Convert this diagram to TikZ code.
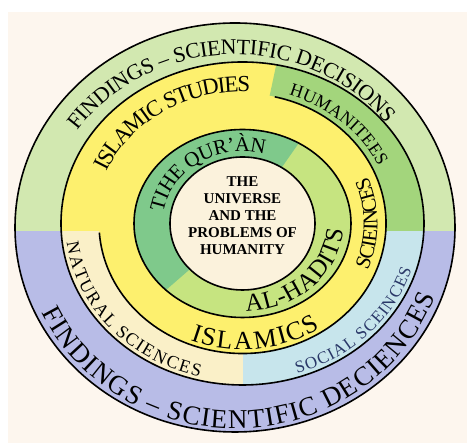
\documentclass[tikz,border=0pt]{standalone}
\usepackage{fontspec}
\setmainfont{Liberation Serif}
\usepackage{xcolor}
\usetikzlibrary{decorations.text}

\definecolor{paper}{HTML}{FDF6EE}
\definecolor{findtop}{HTML}{D2E8B0}
\definecolor{findbot}{HTML}{B8BCE7}
\definecolor{islamyel}{HTML}{FDF06E}
\definecolor{humgreen}{HTML}{A3D57C}
\definecolor{socblue}{HTML}{C7E5EC}
\definecolor{natcream}{HTML}{FAF0C8}
\definecolor{quran}{HTML}{7FC98B}
\definecolor{hadits}{HTML}{C6E480}
\definecolor{core}{HTML}{FBF2DC}
\definecolor{socink}{HTML}{2A3868}

\newcommand{\sz}[1]{\fontsize{#1}{#1}\selectfont}

\tikzset{
  ringline/.style={line width=1.6pt},
  % letters spread evenly between the two ends of an arc
  curved/.style n args={3}{decorate, decoration={text effects along path, text={#3},
      text effects/.cd, text along path, fit text to path, characters={font=\sz{#1}, text=#2}}},
}

\begin{document}
\begin{tikzpicture}[x=1pt,y=1pt]
    \path[use as bounding box] (0,0) rectangle (467,443);
    \fill[white] (0,0) rectangle (467,443);
    \fill[paper] (8,0) rectangle (467,431);

    \coordinate (o) at (235,215.5);
    \coordinate (c) at (242.5,219.5);

    % outer band
    \begin{scope}
        \clip (o) ellipse [x radius=220, y radius=204.5];
        \fill[findtop] (0,212) rectangle (467,443);
        \fill[findbot] (0,0) rectangle (467,212);
    \end{scope}

    % subject band and the yellow spiral
    \begin{scope}
        \clip (c) ellipse [x radius=181.5, y radius=161.5];
        \fill[islamyel] (0,0) rectangle (467,443);
        \fill[humgreen, shift={(c)}] (0,0) -- (78:300) -- (224.5,223.5) -- (224.5,-7.5) -- (0,-7.5) -- cycle;
        \fill[socblue] (243,212) rectangle (467,0);
        \fill[natcream] (0,0) rectangle (243,212);
    \end{scope}
    \fill[islamyel] (c) ellipse [x radius=143.5, y radius=130];

    % qur'an and hadits
    \begin{scope}
        \clip (c) ellipse [x radius=108.5, y radius=94];
        \fill[hadits] (0,0) rectangle (467,443);
        \fill[quran, shift={(c)}] (0,0) -- (55:300) -- (138:300) -- (221:300) -- cycle;
    \end{scope}
    \filldraw[fill=core, ringline] (c) ellipse [x radius=72.5, y radius=66.5];

    \draw[ringline] (o) ellipse [x radius=220, y radius=204.5];
    \draw[ringline] (c) ellipse [x radius=181.5, y radius=161.5];
    \draw[ringline] (c) ellipse [x radius=108.5, y radius=94];
    \draw[ringline, shift={(c)}] (77:143.5 and 130)
        arc[start angle=77, end angle=-176, x radius=143.5, y radius=130];

    % lettering
    \begin{scope}[shift={(o)}]
        \path[curved={22}{black}{FINDINGS – SCIENTIFIC DECISIONS}]
            (146:190 and 173) arc[start angle=146, end angle=37, x radius=190, y radius=173];
        \path[curved={27}{black}{FINDINGS – SCIENTIFIC DECIENCES}]
            (205:213 and 201) arc[start angle=205, end angle=340, x radius=213, y radius=201];
    \end{scope}
    \begin{scope}[shift={(c)}]
        \path[curved={23}{black}{ISLAMIC STUDIES}]
            (157:148 and 132) arc[start angle=157, end angle=87, x radius=148, y radius=132];
        \path[curved={18}{black}{HUMANITEES}]
            (72:150 and 135) arc[start angle=72, end angle=25, x radius=150, y radius=135];
        \path[curved={21}{black}{TIHE QUR'ÀN}]
            (171:80 and 72) arc[start angle=171, end angle=74, x radius=80, y radius=72];
        \path[curved={25}{black}{AL-HADITS}]
            (272:101 and 88) arc[start angle=272, end angle=356, x radius=101, y radius=88];
        \path[curved={21}{black}{SCIEINCES}]
            (-22:135 and 125) arc[start angle=-22, end angle=22, x radius=135, y radius=125];
        \path[curved={26}{black}{ISLAMICS}]
            (248:139 and 126) arc[start angle=248, end angle=304, x radius=139, y radius=126];
        \path[curved={18}{black}{NATURAL SCIENCES}]
            (187:177 and 158) arc[start angle=187, end angle=256, x radius=177, y radius=158];
        \path[curved={17}{socink}{SOCIAL SCEINCES}]
            (288:177 and 158) arc[start angle=288, end angle=343, x radius=177, y radius=158];
    \end{scope}

    \node[font=\bfseries\sz{15}, align=center, inner sep=0pt] (core) at (242.5,227)
        {THE\\[2pt]UNIVERSE\\[2pt]AND THE\\[2pt]PROBLEMS OF\\[2pt]HUMANITY};
\end{tikzpicture}
\end{document}
